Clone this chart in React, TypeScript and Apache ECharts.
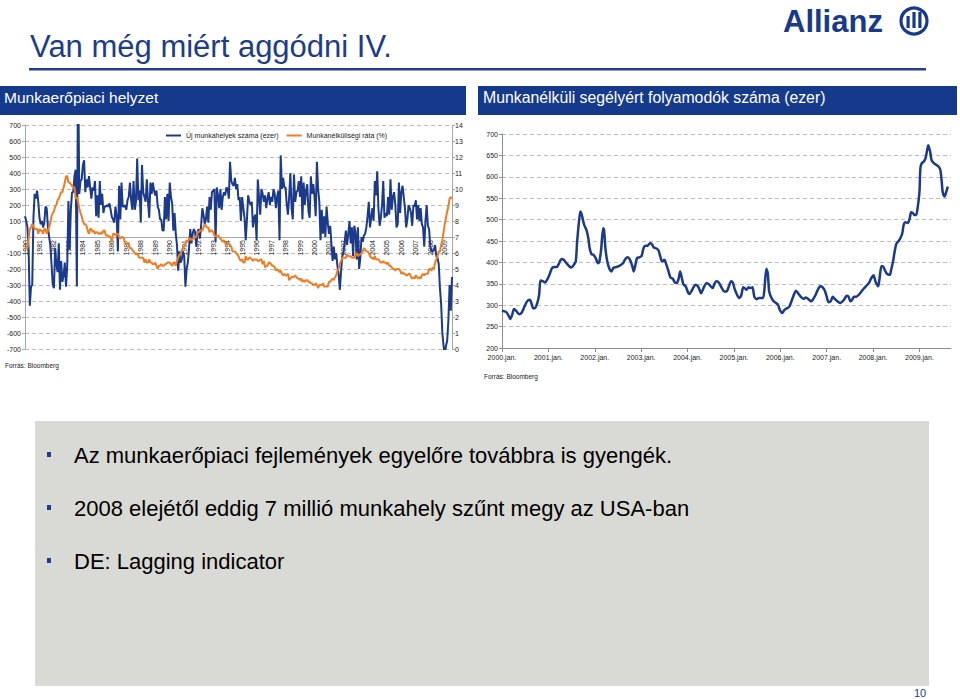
import React, { useEffect, useRef } from "react";
import * as echarts from "echarts";

const FONT = '"Liberation Sans", Arial, Helvetica, sans-serif';
const NAVY = "#1b3a8b";
const ORANGE = "#ee7d23";

// ---------- Left chart: monthly data, Jan 1980 - Jul 2009 ----------
const startYear = 1980;
const monthCount = 355;

// Monthly change of non-farm payrolls (thousand)
const jobsChange: number[] = [
  // 1980
  130, 100, 60, -80, -430, -310, -300, 120, 270, 240, 290, 220,
  // 1981
  120, 80, 100, 60, 90, 190, 180, 60, 0, -50, -170, -300,
  // 1982
  -320, -70, -170, -220, -40, -330, -150, -280, -240, -160, -310, -180,
  // 1983
  225, -80, 170, 280, 280, 380, 420, -310, 1115, 270, 350, 360,
  // 1984
  450, 480, 280, 360, 310, 380, 310, 240, 310, 290, 350, 130,
  // 1985
  260, 120, 350, 200, 270, 150, 190, 190, 200, 190, 210, 170,
  // 1986
  125, 110, 90, 190, 130, -90, 320, 110, 340, 190, 190, 200,
  // 1987
  170, 230, 250, 340, 230, 170, 350, 170, 220, 490, 230, 290,
  // 1988
  90, 450, 280, 250, 220, 360, 220, 120, 340, 270, 340, 290,
  // 1989
  260, 290, 190, 170, 110, 110, 40, 40, 250, 110, 270, 100,
  // 1990
  340, 250, 210, 40, 150, 20, -50, -210, -90, -160, -140, -90,
  // 1991
  -120, -310, -200, -160, -70, 50, -40, 20, 50, 30, -60, 30,
  // 1992
  50, -10, 70, 180, 140, 80, 110, 190, 90, 250, 170, 280,
  // 1993
  290, 300, -30, 310, 260, 180, 300, 170, 250, 280, 260, 310,
  // 1994
  300, 240, 470, 350, 330, 320, 370, 300, 330, 230, 250, 100,
  // 1995
  250, 180, 120, -20, 110, 260, 220, 200, 220, 60, 120, 140,
  // 1996
  -20, 360, 250, 140, 300, 270, 220, 260, 180, 240, 280, 200,
  // 1997
  250, 220, 300, 270, 180, 250, 290, -20, 510, 300, 370, 310,
  // 1998
  310, 200, 140, 250, 400, 180, 110, 390, 220, 280, 290, 350,
  // 1999
  250, 380, 110, 340, 200, 290, 330, 160, 120, 380, 270, 330,
  // 2000
  250, 130, 470, 300, 220, -20, 170, 20, 130, 0, 190, 90,
  // 2001
  20, 70, -40, -150, -60, -140, -100, -180, -230, -330, -220, -120,
  // 2002
  -100, -30, 40, -50, 20, 100, -40, 60, -120, 70, 30, -140,
  // 2003
  60, -200, -130, 0, -30, 10, 20, 60, 130, 220, 60, 120,
  // 2004
  180, 100, 350, 260, 410, 180, 70, 120, 200, 350, 120, 150,
  // 2005
  130, 250, 140, 360, 170, 250, 280, 200, 60, 80, 340, 150,
  // 2006
  280, 320, 250, 180, 60, 110, 200, 180, 150, 70, 200, 190,
  // 2007
  230, 110, 200, 100, 180, 80, 60, -60, 100, 200, 70, 50,
  // 2008
  -60, -90, -90, -80, -50, -120, -130, -170, -320, -420, -600, -680,
  // 2009
  -740, -680, -650, -520, -300, -460, -250,
];

// Unemployment rate (%)
const unemploymentRate: number[] = [
  6.3, 6.3, 6.3, 6.9, 7.5, 7.6, 7.8, 7.7, 7.5, 7.5, 7.5, 7.2,
  7.5, 7.4, 7.4, 7.2, 7.5, 7.5, 7.2, 7.4, 7.6, 7.9, 8.3, 8.5,
  8.6, 8.9, 9.0, 9.3, 9.4, 9.6, 9.8, 9.8, 10.1, 10.4, 10.8, 10.8,
  10.4, 10.4, 10.3, 10.2, 10.1, 10.1, 9.4, 9.5, 9.2, 8.8, 8.5, 8.3,
  8.0, 7.8, 7.8, 7.7, 7.4, 7.2, 7.5, 7.5, 7.3, 7.4, 7.2, 7.3,
  7.3, 7.2, 7.2, 7.3, 7.2, 7.4, 7.4, 7.1, 7.1, 7.1, 7.0, 7.0,
  6.7, 7.2, 7.2, 7.1, 7.2, 7.2, 7.0, 6.9, 7.0, 7.0, 6.9, 6.6,
  6.6, 6.6, 6.6, 6.3, 6.3, 6.2, 6.1, 6.0, 5.9, 6.0, 5.8, 5.7,
  5.7, 5.7, 5.7, 5.4, 5.6, 5.4, 5.4, 5.6, 5.4, 5.4, 5.3, 5.3,
  5.4, 5.2, 5.0, 5.2, 5.2, 5.3, 5.2, 5.2, 5.3, 5.3, 5.4, 5.4,
  5.4, 5.3, 5.2, 5.4, 5.4, 5.2, 5.5, 5.7, 5.9, 5.9, 6.2, 6.3,
  6.4, 6.6, 6.8, 6.7, 6.9, 6.9, 6.8, 6.9, 6.9, 7.0, 7.0, 7.3,
  7.3, 7.4, 7.4, 7.4, 7.6, 7.8, 7.7, 7.6, 7.6, 7.3, 7.4, 7.4,
  7.3, 7.1, 7.0, 7.1, 7.1, 7.0, 6.9, 6.8, 6.7, 6.8, 6.6, 6.5,
  6.6, 6.6, 6.5, 6.4, 6.1, 6.1, 6.1, 6.0, 5.9, 5.8, 5.6, 5.5,
  5.6, 5.4, 5.4, 5.8, 5.6, 5.6, 5.7, 5.7, 5.6, 5.5, 5.6, 5.6,
  5.6, 5.5, 5.5, 5.6, 5.6, 5.3, 5.5, 5.1, 5.2, 5.2, 5.4, 5.4,
  5.3, 5.2, 5.2, 5.1, 4.9, 5.0, 4.9, 4.8, 4.9, 4.7, 4.6, 4.7,
  4.6, 4.6, 4.7, 4.3, 4.4, 4.5, 4.5, 4.5, 4.6, 4.5, 4.4, 4.4,
  4.3, 4.4, 4.2, 4.3, 4.2, 4.3, 4.3, 4.2, 4.2, 4.1, 4.1, 4.0,
  4.0, 4.1, 4.0, 3.8, 4.0, 4.0, 4.0, 4.1, 3.9, 3.9, 3.9, 3.9,
  4.2, 4.2, 4.3, 4.4, 4.3, 4.5, 4.6, 4.9, 5.0, 5.3, 5.5, 5.7,
  5.7, 5.7, 5.7, 5.9, 5.8, 5.8, 5.8, 5.7, 5.7, 5.7, 5.9, 6.0,
  5.8, 5.9, 5.9, 6.0, 6.1, 6.3, 6.2, 6.1, 6.1, 6.0, 5.8, 5.7,
  5.7, 5.6, 5.8, 5.6, 5.6, 5.6, 5.5, 5.4, 5.4, 5.5, 5.4, 5.4,
  5.3, 5.4, 5.2, 5.2, 5.1, 5.0, 5.0, 4.9, 5.0, 5.0, 5.0, 4.9,
  4.7, 4.8, 4.7, 4.7, 4.6, 4.6, 4.7, 4.7, 4.5, 4.4, 4.5, 4.4,
  4.6, 4.5, 4.4, 4.5, 4.4, 4.6, 4.7, 4.6, 4.7, 4.7, 4.7, 5.0,
  5.0, 4.9, 5.1, 5.0, 5.4, 5.6, 5.8, 6.1, 6.1, 6.5, 6.8, 7.3,
  7.8, 8.2, 8.6, 8.9, 9.4, 9.5, 9.4,
];

// ---------- Right chart: jobless claims (thousand), decimal year ----------
const claimsDate: number[] = [
  2000.0, 2000.09, 2000.13, 2000.18, 2000.22, 2000.26, 2000.31, 2000.37, 2000.42, 2000.47,
  2000.54, 2000.6, 2000.64, 2000.67, 2000.71, 2000.76, 2000.8, 2000.83, 2000.88, 2000.93,
  2000.98, 2001.03, 2001.08, 2001.14, 2001.18, 2001.23, 2001.28, 2001.33, 2001.39, 2001.44,
  2001.49, 2001.54, 2001.59, 2001.62, 2001.66, 2001.69, 2001.72, 2001.77, 2001.82, 2001.86,
  2001.89, 2001.93, 2001.97, 2002.02, 2002.07, 2002.1, 2002.14, 2002.18, 2002.2, 2002.23,
  2002.27, 2002.32, 2002.36, 2002.4, 2002.46, 2002.53, 2002.61, 2002.66, 2002.71, 2002.76,
  2002.81, 2002.84, 2002.87, 2002.91, 2002.96, 2003.01, 2003.05, 2003.09, 2003.14, 2003.19,
  2003.23, 2003.27, 2003.32, 2003.37, 2003.41, 2003.45, 2003.5, 2003.54, 2003.59, 2003.63,
  2003.68, 2003.73, 2003.77, 2003.81, 2003.84, 2003.87, 2003.91, 2003.96, 2004.01, 2004.04,
  2004.08, 2004.13, 2004.17, 2004.22, 2004.26, 2004.29, 2004.33, 2004.36, 2004.41, 2004.46,
  2004.5, 2004.54, 2004.59, 2004.63, 2004.68, 2004.74, 2004.79, 2004.84, 2004.89, 2004.94,
  2004.98, 2005.01, 2005.06, 2005.11, 2005.16, 2005.2, 2005.24, 2005.27, 2005.32, 2005.36,
  2005.4, 2005.44, 2005.49, 2005.54, 2005.59, 2005.63, 2005.66, 2005.7, 2005.73, 2005.76,
  2005.81, 2005.86, 2005.91, 2005.95, 2005.99, 2006.04, 2006.09, 2006.14, 2006.19, 2006.24,
  2006.29, 2006.34, 2006.39, 2006.44, 2006.5, 2006.55, 2006.61, 2006.66, 2006.7, 2006.75,
  2006.8, 2006.86, 2006.91, 2006.96, 2007.0, 2007.04, 2007.09, 2007.13, 2007.18, 2007.23,
  2007.29, 2007.34, 2007.38, 2007.43, 2007.47, 2007.51, 2007.55, 2007.59, 2007.64, 2007.69,
  2007.75, 2007.8, 2007.86, 2007.91, 2007.96, 2008.01, 2008.05, 2008.11, 2008.14, 2008.18,
  2008.21, 2008.25, 2008.3, 2008.36, 2008.39, 2008.43, 2008.46, 2008.5, 2008.55, 2008.59,
  2008.63, 2008.66, 2008.7, 2008.75, 2008.79, 2008.82, 2008.86, 2008.89, 2008.93, 2008.96,
  2009.0, 2009.02, 2009.05, 2009.09, 2009.13, 2009.16, 2009.19, 2009.23, 2009.26, 2009.31,
  2009.36, 2009.41, 2009.45, 2009.48, 2009.5, 2009.54, 2009.57, 2009.61,
];
const claimsValue: number[] = [
  287, 284, 278, 268, 278, 291, 286, 279, 282, 293,
  309, 313, 303, 293, 293, 305, 324, 358, 356, 353,
  361, 373, 387, 389, 389, 398, 408, 406, 398, 392,
  388, 393, 402, 449, 496, 519, 511, 488, 476, 457,
  433, 419, 418, 410, 398, 402, 433, 480, 476, 433,
  402, 384, 379, 387, 389, 392, 398, 408, 412, 406,
  391, 379, 391, 410, 412, 415, 433, 439, 439, 445,
  443, 435, 433, 429, 415, 402, 406, 396, 379, 365,
  362, 353, 352, 363, 379, 367, 349, 344, 330, 326,
  332, 342, 348, 345, 336, 328, 336, 344, 352, 349,
  344, 340, 352, 356, 352, 340, 332, 332, 344, 356,
  352, 340, 326, 317, 324, 342, 339, 336, 342, 340,
  342, 320, 314, 317, 317, 317, 340, 385, 375, 332,
  317, 309, 305, 301, 289, 282, 289, 293, 296, 309,
  324, 334, 327, 320, 315, 318, 314, 309, 313, 322,
  334, 344, 342, 334, 320, 307, 310, 320, 314, 309,
  305, 309, 314, 322, 320, 309, 313, 320, 320, 324,
  332, 339, 346, 352, 363, 370, 356, 344, 363, 391,
  391, 383, 373, 371, 383, 402, 422, 443, 450, 457,
  468, 488, 494, 492, 503, 517, 515, 511, 511, 527,
  565, 620, 632, 635, 643, 659, 674, 659, 639, 632,
  628, 624, 616, 589, 565, 554, 562, 577,
];
const claimsYearTicks: number[] = [2000, 2001, 2002, 2003, 2004, 2005, 2006, 2007, 2008, 2009];

const bullets: string[] = [
  "Az munkaerőpiaci fejlemények egyelőre továbbra is gyengék.",
  "2008 elejétől eddig 7 millió munkahely szűnt megy az USA-ban",
  "DE: Lagging indicator",
];

const months: string[] = Array.from({ length: monthCount }, (_, i) => {
  const y = startYear + Math.floor(i / 12);
  const m = (i % 12) + 1;
  return `${y}-${m < 10 ? "0" + m : m}`;
});

const axisLabelBase = { fontFamily: FONT, fontSize: 7, color: "#222" };
const gridDash = { show: true, lineStyle: { color: "#bdbdbd", type: [4, 3] as any, width: 1 } };

export default function App() {
  const ref = useRef<HTMLDivElement>(null);

  useEffect(() => {
    if (!ref.current) return;
    const chart = echarts.init(ref.current, undefined, { renderer: "svg" });

    const option: any = {
      animation: false,
      backgroundColor: "#ffffff",
      textStyle: { fontFamily: FONT },
      legend: {
        data: ["Új munkahelyek száma (ezer)", "Munkanélküliségi ráta (%)"],
        left: 161,
        top: 127,
        icon: "rect",
        itemWidth: 15,
        itemHeight: 2,
        itemGap: 8,
        textStyle: { fontFamily: FONT, fontSize: 7, color: "#222" },
      },
      grid: [
        { left: 25, top: 125, width: 427, height: 224, containLabel: false },
        { left: 502, top: 134, width: 449, height: 214, containLabel: false },
      ],
      xAxis: [
        {
          type: "category",
          gridIndex: 0,
          data: months,
          boundaryGap: false,
          position: "bottom",
          offset: -112,
          axisLine: { onZero: false, lineStyle: { color: "#a6a6a6", width: 1 } },
          axisTick: { show: false },
          axisLabel: {
            ...axisLabelBase,
            rotate: 90,
            margin: 3,
            interval: (i: number) => i % 12 === 0,
            formatter: (v: string) => v.slice(0, 4),
          },
          splitLine: { show: false },
        },
        {
          type: "value",
          gridIndex: 1,
          min: 2000,
          max: 2009.68,
          interval: 1,
          axisLine: { show: true, onZero: false, lineStyle: { color: "#8c8c8c" } },
          axisTick: { show: true, length: 4, customValues: claimsYearTicks, lineStyle: { color: "#8c8c8c" } },
          axisLabel: {
            ...axisLabelBase,
            margin: 6,
            customValues: claimsYearTicks,
            formatter: (v: number) => `${v}.jan.`,
          },
          splitLine: { show: false },
        },
      ],
      yAxis: [
        {
          type: "value",
          gridIndex: 0,
          min: -700,
          max: 700,
          interval: 100,
          position: "left",
          axisLine: { show: true, lineStyle: { color: "#a6a6a6" } },
          axisTick: { show: true, length: 3, lineStyle: { color: "#a6a6a6" } },
          axisLabel: { ...axisLabelBase, margin: 4 },
          splitLine: gridDash,
        },
        {
          type: "value",
          gridIndex: 0,
          min: 0,
          max: 14,
          interval: 1,
          position: "right",
          axisLine: { show: true, lineStyle: { color: "#a6a6a6" } },
          axisTick: { show: true, length: 3, lineStyle: { color: "#a6a6a6" } },
          axisLabel: { ...axisLabelBase, margin: 3 },
          splitLine: { show: false },
        },
        {
          type: "value",
          gridIndex: 1,
          min: 200,
          max: 700,
          interval: 50,
          axisLine: { show: true, lineStyle: { color: "#8c8c8c" } },
          axisTick: { show: true, length: 3, lineStyle: { color: "#8c8c8c" } },
          axisLabel: { ...axisLabelBase, margin: 4 },
          splitLine: gridDash,
        },
      ],
      series: [
        {
          name: "Új munkahelyek száma (ezer)",
          type: "line",
          xAxisIndex: 0,
          yAxisIndex: 0,
          data: jobsChange,
          symbol: "none",
          clip: true,
          lineStyle: { color: NAVY, width: 2 },
          itemStyle: { color: NAVY },
          z: 3,
        },
        {
          name: "Munkanélküliségi ráta (%)",
          type: "line",
          xAxisIndex: 0,
          yAxisIndex: 1,
          data: unemploymentRate,
          symbol: "none",
          clip: true,
          lineStyle: { color: ORANGE, width: 2 },
          itemStyle: { color: ORANGE },
          z: 4,
        },
        {
          name: "claims",
          type: "line",
          xAxisIndex: 1,
          yAxisIndex: 2,
          data: claimsDate.map((d, i) => [d, claimsValue[i]]),
          symbol: "none",
          smooth: 0.25,
          lineStyle: { color: NAVY, width: 2.5 },
          itemStyle: { color: NAVY },
          z: 3,
        },
      ],
      graphic: [
        // title
        {
          type: "text",
          x: 30,
          y: 46,
          style: { text: "Van még miért aggódni IV.", fill: "#1c3c8c", fontFamily: FONT, fontSize: 31, verticalAlign: "middle" },
        },
        { type: "rect", shape: { x: 29, y: 68, width: 897, height: 2.5 }, style: { fill: "#1f3f8f" } },
        // Allianz logo
        {
          type: "text",
          x: 783,
          y: 21,
          style: { text: "Allianz", fill: "#183a8c", fontFamily: FONT, fontWeight: "bold", fontSize: 31, verticalAlign: "middle" },
        },
        { type: "circle", shape: { cx: 914, cy: 21, r: 13 }, style: { fill: "none", stroke: "#183a8c", lineWidth: 3.2 } },
        { type: "rect", shape: { x: 906.5, y: 16, width: 3.2, height: 12 }, style: { fill: "#183a8c" } },
        { type: "rect", shape: { x: 912.4, y: 12, width: 3.2, height: 16 }, style: { fill: "#183a8c" } },
        { type: "rect", shape: { x: 918.3, y: 12, width: 3.2, height: 16 }, style: { fill: "#183a8c" } },
        // header bars
        { type: "rect", shape: { x: 0, y: 86, width: 466, height: 29 }, style: { fill: "#163a8b" } },
        {
          type: "text",
          x: 4,
          y: 97,
          style: { text: "Munkaerőpiaci helyzet", fill: "#ffffff", fontFamily: FONT, fontSize: 15.5, verticalAlign: "middle" },
        },
        { type: "rect", shape: { x: 478, y: 86, width: 479, height: 29 }, style: { fill: "#163a8b" } },
        {
          type: "text",
          x: 483,
          y: 97,
          style: {
            text: "Munkanélküli segélyért folyamodók száma (ezer)",
            fill: "#ffffff",
            fontFamily: FONT,
            fontSize: 15.8,
            verticalAlign: "middle",
          },
        },
        // sources
        {
          type: "text",
          x: 5,
          y: 365,
          style: { text: "Forrás: Bloomberg", fill: "#222", fontFamily: FONT, fontSize: 6.5, verticalAlign: "middle" },
        },
        {
          type: "text",
          x: 484,
          y: 376,
          style: { text: "Forrás: Bloomberg", fill: "#222", fontFamily: FONT, fontSize: 6.5, verticalAlign: "middle" },
        },
        // grey text box
        { type: "rect", shape: { x: 35, y: 421, width: 894, height: 265 }, style: { fill: "#d9d9d6" } },
        ...bullets.flatMap((b, i) => [
          { type: "rect", shape: { x: 47, y: 452 + i * 53, width: 4, height: 5 }, style: { fill: "#1c3c8c" } },
          {
            type: "text",
            x: 74,
            y: 455 + i * 53,
            style: { text: b, fill: "#000", fontFamily: FONT, fontSize: 22, verticalAlign: "middle" },
          },
        ]),
        // page number
        {
          type: "text",
          x: 920,
          y: 693,
          style: { text: "10", fill: "#1c3c8c", fontFamily: FONT, fontSize: 11, align: "center", verticalAlign: "middle" },
        },
      ],
    };

    chart.setOption(option);
    return () => chart.dispose();
  }, []);

  return (
    <div
      ref={ref}
      style={{ position: "absolute", left: 0, top: 0, width: 960, height: 699, background: "#fff" }}
    />
  );
}
